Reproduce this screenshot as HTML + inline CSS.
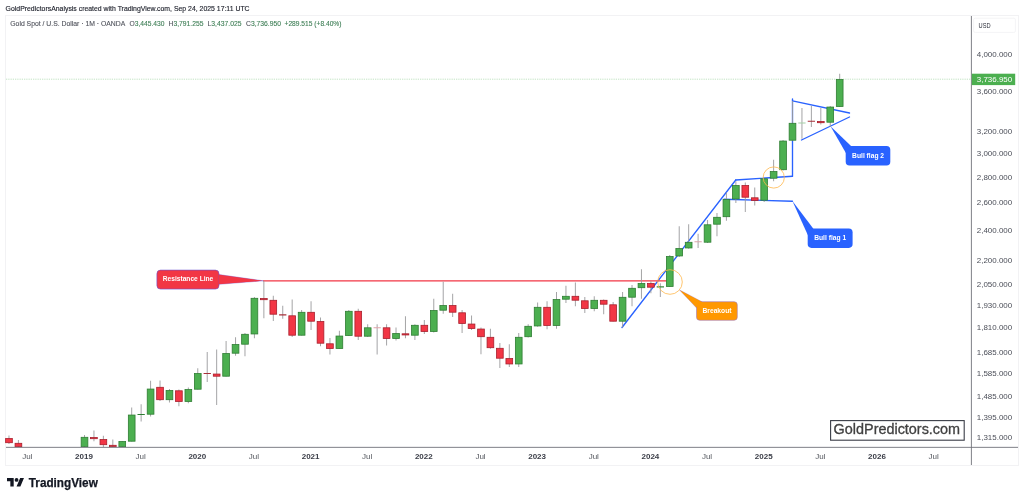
<!DOCTYPE html>
<html><head><meta charset="utf-8"><title>Gold chart</title>
<style>
html,body{margin:0;padding:0;background:#fff;}
body{width:1024px;height:500px;overflow:hidden;position:relative;font-family:"Liberation Sans",sans-serif;}
svg{position:absolute;left:0;top:0;will-change:transform;}
text{font-family:"Liberation Sans",sans-serif;}
.ax{font-size:8px;fill:#4b4e58;}
.tx{font-size:8px;fill:#55585f;}
.tb{font-size:8px;fill:#3a3d47;font-weight:bold;}
.hd{font-size:7.2px;fill:#1c1f2a;stroke:#1c1f2a;stroke-width:0.14;}
.lg{font-size:6.8px;fill:#50535c;stroke:#50535c;stroke-width:0.1;}
.lv{font-size:6.8px;fill:#3c7d54;stroke:#3c7d54;stroke-width:0.1;}
.cl{font-size:6.9px;fill:#fff;font-weight:bold;}
</style></head><body>
<svg width="1024" height="500" viewBox="0 0 1024 500">
<rect x="0" y="0" width="1024" height="500" fill="#ffffff"/>
<!-- frame -->
<rect x="5.5" y="15.5" width="1013" height="450" fill="none" stroke="#f2f2f4" stroke-width="1"/>
<!-- header -->
<text x="5.6" y="10.9" class="hd" textLength="244" lengthAdjust="spacingAndGlyphs">GoldPredictorsAnalysis created with TradingView.com, Sep 24, 2025 17:11 UTC</text>
<text x="10.3" y="26.4" class="lg" textLength="115" lengthAdjust="spacingAndGlyphs">Gold Spot / U.S. Dollar · 1M · OANDA</text>
<text x="129.5" y="26.4" class="lv" textLength="35" lengthAdjust="spacingAndGlyphs"><tspan fill="#50535c" stroke="#50535c">O</tspan>3,445.430</text>
<text x="168.5" y="26.4" class="lv" textLength="35" lengthAdjust="spacingAndGlyphs"><tspan fill="#50535c" stroke="#50535c">H</tspan>3,791.255</text>
<text x="207.5" y="26.4" class="lv" textLength="34" lengthAdjust="spacingAndGlyphs"><tspan fill="#50535c" stroke="#50535c">L</tspan>3,437.025</text>
<text x="246" y="26.4" class="lv" textLength="35" lengthAdjust="spacingAndGlyphs"><tspan fill="#50535c" stroke="#50535c">C</tspan>3,736.950</text>
<text x="284.5" y="26.4" class="lv" textLength="57" lengthAdjust="spacingAndGlyphs">+289.515 (+8.40%)</text>
<!-- price dotted line -->
<line x1="6" x2="971" y1="79.2" y2="79.2" stroke="#7fc683" stroke-width="0.6" stroke-dasharray="0.8 1"/>
<!-- trend lines (behind candles) -->
<g stroke="#2962ff" stroke-width="1.35" fill="none" stroke-linecap="round">
<line x1="622" y1="327.5" x2="735.75" y2="180"/>
<line x1="735.75" y1="180" x2="792.5" y2="176.25"/>
<line x1="724" y1="199.25" x2="792.5" y2="201.25"/>
<line x1="792.5" y1="176" x2="792.5" y2="98.9"/>
<line x1="792.5" y1="100.9" x2="849.5" y2="113"/>
<line x1="801.5" y1="140" x2="849.5" y2="117"/>
</g>
<line x1="263" y1="280.9" x2="666.5" y2="280.9" stroke="#f23645" stroke-width="1.1"/>
<!-- candles -->
<line x1="8.98" x2="8.98" y1="435.5" y2="444" stroke="#9a9a9c" stroke-width="0.9"/>
<rect x="5.63" y="438.55" width="6.70" height="4.15" fill="#f23645" stroke="#a81f2c" stroke-width="0.8"/>
<line x1="18.42" x2="18.42" y1="440" y2="447" stroke="#9a9a9c" stroke-width="0.9"/>
<rect x="15.07" y="443.30" width="6.70" height="3.40" fill="#f23645" stroke="#a81f2c" stroke-width="0.8"/>
<line x1="84.50" x2="84.50" y1="435" y2="447" stroke="#9a9a9c" stroke-width="0.9"/>
<rect x="81.15" y="437.30" width="6.70" height="9.40" fill="#4caf50" stroke="#2e7d32" stroke-width="0.8"/>
<line x1="93.94" x2="93.94" y1="430.5" y2="441.25" stroke="#9a9a9c" stroke-width="0.9"/>
<rect x="90.59" y="437.55" width="6.70" height="1.15" fill="#f23645" stroke="#a81f2c" stroke-width="0.8"/>
<line x1="103.38" x2="103.38" y1="435.75" y2="447" stroke="#9a9a9c" stroke-width="0.9"/>
<rect x="100.03" y="439.55" width="6.70" height="5.15" fill="#f23645" stroke="#a81f2c" stroke-width="0.8"/>
<line x1="112.82" x2="112.82" y1="439.5" y2="447" stroke="#9a9a9c" stroke-width="0.9"/>
<rect x="109.47" y="445.30" width="6.70" height="1.40" fill="#f23645" stroke="#a81f2c" stroke-width="0.8"/>
<line x1="122.26" x2="122.26" y1="441" y2="447" stroke="#9a9a9c" stroke-width="0.9"/>
<rect x="118.91" y="441.55" width="6.70" height="5.15" fill="#4caf50" stroke="#2e7d32" stroke-width="0.8"/>
<line x1="131.70" x2="131.70" y1="407.5" y2="441.5" stroke="#9a9a9c" stroke-width="0.9"/>
<rect x="128.35" y="415.05" width="6.70" height="26.15" fill="#4caf50" stroke="#2e7d32" stroke-width="0.8"/>
<line x1="141.14" x2="141.14" y1="404.25" y2="421.5" stroke="#9a9a9c" stroke-width="0.9"/>
<rect x="137.49" y="414.00" width="7.3" height="1.00" fill="#2e7d32"/>
<line x1="150.58" x2="150.58" y1="380.75" y2="416.5" stroke="#9a9a9c" stroke-width="0.9"/>
<rect x="147.23" y="389.05" width="6.70" height="25.15" fill="#4caf50" stroke="#2e7d32" stroke-width="0.8"/>
<line x1="160.02" x2="160.02" y1="380.5" y2="401" stroke="#9a9a9c" stroke-width="0.9"/>
<rect x="156.67" y="387.30" width="6.70" height="12.40" fill="#f23645" stroke="#a81f2c" stroke-width="0.8"/>
<line x1="169.46" x2="169.46" y1="389" y2="402.5" stroke="#9a9a9c" stroke-width="0.9"/>
<rect x="166.11" y="390.55" width="6.70" height="9.15" fill="#4caf50" stroke="#2e7d32" stroke-width="0.8"/>
<line x1="178.90" x2="178.90" y1="389.5" y2="406.25" stroke="#9a9a9c" stroke-width="0.9"/>
<rect x="175.55" y="390.80" width="6.70" height="10.65" fill="#f23645" stroke="#a81f2c" stroke-width="0.8"/>
<line x1="188.34" x2="188.34" y1="387.5" y2="403.25" stroke="#9a9a9c" stroke-width="0.9"/>
<rect x="184.99" y="389.55" width="6.70" height="11.90" fill="#4caf50" stroke="#2e7d32" stroke-width="0.8"/>
<line x1="197.78" x2="197.78" y1="368.25" y2="389.5" stroke="#9a9a9c" stroke-width="0.9"/>
<rect x="194.43" y="373.55" width="6.70" height="15.65" fill="#4caf50" stroke="#2e7d32" stroke-width="0.8"/>
<line x1="207.22" x2="207.22" y1="352" y2="382" stroke="#9a9a9c" stroke-width="0.9"/>
<rect x="203.57" y="373.00" width="7.3" height="1.00" fill="#a8303a"/>
<line x1="216.66" x2="216.66" y1="349.5" y2="405" stroke="#9a9a9c" stroke-width="0.9"/>
<rect x="213.31" y="374.05" width="6.70" height="2.15" fill="#f23645" stroke="#a81f2c" stroke-width="0.8"/>
<line x1="226.10" x2="226.10" y1="341" y2="376.5" stroke="#9a9a9c" stroke-width="0.9"/>
<rect x="222.75" y="353.55" width="6.70" height="22.65" fill="#4caf50" stroke="#2e7d32" stroke-width="0.8"/>
<line x1="235.54" x2="235.54" y1="337.25" y2="355.75" stroke="#9a9a9c" stroke-width="0.9"/>
<rect x="232.19" y="344.55" width="6.70" height="8.65" fill="#4caf50" stroke="#2e7d32" stroke-width="0.8"/>
<line x1="244.98" x2="244.98" y1="333" y2="356.25" stroke="#9a9a9c" stroke-width="0.9"/>
<rect x="241.63" y="334.30" width="6.70" height="9.90" fill="#4caf50" stroke="#2e7d32" stroke-width="0.8"/>
<line x1="254.42" x2="254.42" y1="297" y2="338.25" stroke="#9a9a9c" stroke-width="0.9"/>
<rect x="251.07" y="298.30" width="6.70" height="35.65" fill="#4caf50" stroke="#2e7d32" stroke-width="0.8"/>
<line x1="263.86" x2="263.86" y1="281" y2="318.25" stroke="#9a9a9c" stroke-width="0.9"/>
<rect x="260.51" y="298.55" width="6.70" height="1.15" fill="#f23645" stroke="#a81f2c" stroke-width="0.8"/>
<line x1="273.30" x2="273.30" y1="295.75" y2="321" stroke="#9a9a9c" stroke-width="0.9"/>
<rect x="269.95" y="300.30" width="6.70" height="13.90" fill="#f23645" stroke="#a81f2c" stroke-width="0.8"/>
<line x1="282.74" x2="282.74" y1="305.75" y2="318.75" stroke="#9a9a9c" stroke-width="0.9"/>
<rect x="279.09" y="314.25" width="7.3" height="1.25" fill="#a8303a"/>
<line x1="292.18" x2="292.18" y1="299.5" y2="337" stroke="#9a9a9c" stroke-width="0.9"/>
<rect x="288.83" y="315.80" width="6.70" height="19.40" fill="#f23645" stroke="#a81f2c" stroke-width="0.8"/>
<line x1="301.62" x2="301.62" y1="310" y2="335.5" stroke="#9a9a9c" stroke-width="0.9"/>
<rect x="298.27" y="312.30" width="6.70" height="22.90" fill="#4caf50" stroke="#2e7d32" stroke-width="0.8"/>
<line x1="311.06" x2="311.06" y1="301.25" y2="330" stroke="#9a9a9c" stroke-width="0.9"/>
<rect x="307.71" y="312.30" width="6.70" height="8.90" fill="#f23645" stroke="#a81f2c" stroke-width="0.8"/>
<line x1="320.50" x2="320.50" y1="317.5" y2="346.25" stroke="#9a9a9c" stroke-width="0.9"/>
<rect x="317.15" y="321.55" width="6.70" height="21.65" fill="#f23645" stroke="#a81f2c" stroke-width="0.8"/>
<line x1="329.94" x2="329.94" y1="338" y2="354.5" stroke="#9a9a9c" stroke-width="0.9"/>
<rect x="326.59" y="343.80" width="6.70" height="4.65" fill="#f23645" stroke="#a81f2c" stroke-width="0.8"/>
<line x1="339.38" x2="339.38" y1="330.75" y2="348.75" stroke="#9a9a9c" stroke-width="0.9"/>
<rect x="336.03" y="336.05" width="6.70" height="12.40" fill="#4caf50" stroke="#2e7d32" stroke-width="0.8"/>
<line x1="348.82" x2="348.82" y1="310" y2="336" stroke="#9a9a9c" stroke-width="0.9"/>
<rect x="345.47" y="311.30" width="6.70" height="24.15" fill="#4caf50" stroke="#2e7d32" stroke-width="0.8"/>
<line x1="358.26" x2="358.26" y1="308.75" y2="340" stroke="#9a9a9c" stroke-width="0.9"/>
<rect x="354.91" y="311.30" width="6.70" height="24.90" fill="#f23645" stroke="#a81f2c" stroke-width="0.8"/>
<line x1="367.70" x2="367.70" y1="324.25" y2="337" stroke="#9a9a9c" stroke-width="0.9"/>
<rect x="364.35" y="327.80" width="6.70" height="8.40" fill="#4caf50" stroke="#2e7d32" stroke-width="0.8"/>
<line x1="377.14" x2="377.14" y1="324.25" y2="354.5" stroke="#9a9a9c" stroke-width="0.9"/>
<rect x="373.49" y="327.25" width="7.3" height="1.00" fill="#dfa3a9"/>
<line x1="386.58" x2="386.58" y1="324.25" y2="345.5" stroke="#9a9a9c" stroke-width="0.9"/>
<rect x="383.23" y="327.80" width="6.70" height="10.65" fill="#f23645" stroke="#a81f2c" stroke-width="0.8"/>
<line x1="396.02" x2="396.02" y1="327.5" y2="340.5" stroke="#9a9a9c" stroke-width="0.9"/>
<rect x="392.67" y="333.55" width="6.70" height="4.90" fill="#4caf50" stroke="#2e7d32" stroke-width="0.8"/>
<line x1="405.46" x2="405.46" y1="316.25" y2="338.25" stroke="#9a9a9c" stroke-width="0.9"/>
<rect x="402.11" y="333.80" width="6.70" height="1.15" fill="#f23645" stroke="#a81f2c" stroke-width="0.8"/>
<line x1="414.90" x2="414.90" y1="324.25" y2="340" stroke="#9a9a9c" stroke-width="0.9"/>
<rect x="411.55" y="325.30" width="6.70" height="9.90" fill="#4caf50" stroke="#2e7d32" stroke-width="0.8"/>
<line x1="424.34" x2="424.34" y1="320" y2="334" stroke="#9a9a9c" stroke-width="0.9"/>
<rect x="420.99" y="325.30" width="6.70" height="6.15" fill="#f23645" stroke="#a81f2c" stroke-width="0.8"/>
<line x1="433.78" x2="433.78" y1="298.75" y2="332.5" stroke="#9a9a9c" stroke-width="0.9"/>
<rect x="430.43" y="310.55" width="6.70" height="20.90" fill="#4caf50" stroke="#2e7d32" stroke-width="0.8"/>
<line x1="443.22" x2="443.22" y1="281.75" y2="313.75" stroke="#9a9a9c" stroke-width="0.9"/>
<rect x="439.87" y="305.55" width="6.70" height="4.65" fill="#4caf50" stroke="#2e7d32" stroke-width="0.8"/>
<line x1="452.66" x2="452.66" y1="293.75" y2="317" stroke="#9a9a9c" stroke-width="0.9"/>
<rect x="449.31" y="305.55" width="6.70" height="6.65" fill="#f23645" stroke="#a81f2c" stroke-width="0.8"/>
<line x1="462.10" x2="462.10" y1="310" y2="333" stroke="#9a9a9c" stroke-width="0.9"/>
<rect x="458.75" y="312.80" width="6.70" height="10.65" fill="#f23645" stroke="#a81f2c" stroke-width="0.8"/>
<line x1="471.54" x2="471.54" y1="315.5" y2="330" stroke="#9a9a9c" stroke-width="0.9"/>
<rect x="468.19" y="324.05" width="6.70" height="4.40" fill="#f23645" stroke="#a81f2c" stroke-width="0.8"/>
<line x1="480.98" x2="480.98" y1="327.5" y2="354.25" stroke="#9a9a9c" stroke-width="0.9"/>
<rect x="477.63" y="329.05" width="6.70" height="7.65" fill="#f23645" stroke="#a81f2c" stroke-width="0.8"/>
<line x1="490.42" x2="490.42" y1="328.75" y2="348.75" stroke="#9a9a9c" stroke-width="0.9"/>
<rect x="487.07" y="337.30" width="6.70" height="10.40" fill="#f23645" stroke="#a81f2c" stroke-width="0.8"/>
<line x1="499.86" x2="499.86" y1="343" y2="368" stroke="#9a9a9c" stroke-width="0.9"/>
<rect x="496.51" y="348.30" width="6.70" height="9.90" fill="#f23645" stroke="#a81f2c" stroke-width="0.8"/>
<line x1="509.30" x2="509.30" y1="344.25" y2="367" stroke="#9a9a9c" stroke-width="0.9"/>
<rect x="505.95" y="358.55" width="6.70" height="5.40" fill="#f23645" stroke="#a81f2c" stroke-width="0.8"/>
<line x1="518.74" x2="518.74" y1="333" y2="367" stroke="#9a9a9c" stroke-width="0.9"/>
<rect x="515.39" y="337.30" width="6.70" height="26.65" fill="#4caf50" stroke="#2e7d32" stroke-width="0.8"/>
<line x1="528.18" x2="528.18" y1="324.25" y2="337.5" stroke="#9a9a9c" stroke-width="0.9"/>
<rect x="524.83" y="326.30" width="6.70" height="10.40" fill="#4caf50" stroke="#2e7d32" stroke-width="0.8"/>
<line x1="537.62" x2="537.62" y1="302.5" y2="326.75" stroke="#9a9a9c" stroke-width="0.9"/>
<rect x="534.27" y="307.30" width="6.70" height="18.65" fill="#4caf50" stroke="#2e7d32" stroke-width="0.8"/>
<line x1="547.06" x2="547.06" y1="301.25" y2="329.25" stroke="#9a9a9c" stroke-width="0.9"/>
<rect x="543.71" y="307.30" width="6.70" height="18.15" fill="#f23645" stroke="#a81f2c" stroke-width="0.8"/>
<line x1="556.50" x2="556.50" y1="292" y2="328.75" stroke="#9a9a9c" stroke-width="0.9"/>
<rect x="553.15" y="299.55" width="6.70" height="25.90" fill="#4caf50" stroke="#2e7d32" stroke-width="0.8"/>
<line x1="565.94" x2="565.94" y1="285.75" y2="303" stroke="#9a9a9c" stroke-width="0.9"/>
<rect x="562.59" y="296.30" width="6.70" height="2.90" fill="#4caf50" stroke="#2e7d32" stroke-width="0.8"/>
<line x1="575.38" x2="575.38" y1="282.5" y2="306.25" stroke="#9a9a9c" stroke-width="0.9"/>
<rect x="572.03" y="296.30" width="6.70" height="3.90" fill="#f23645" stroke="#a81f2c" stroke-width="0.8"/>
<line x1="584.82" x2="584.82" y1="297" y2="313" stroke="#9a9a9c" stroke-width="0.9"/>
<rect x="581.47" y="300.80" width="6.70" height="7.65" fill="#f23645" stroke="#a81f2c" stroke-width="0.8"/>
<line x1="594.26" x2="594.26" y1="296.25" y2="311.25" stroke="#9a9a9c" stroke-width="0.9"/>
<rect x="590.91" y="300.30" width="6.70" height="8.15" fill="#4caf50" stroke="#2e7d32" stroke-width="0.8"/>
<line x1="603.70" x2="603.70" y1="299.5" y2="314.25" stroke="#9a9a9c" stroke-width="0.9"/>
<rect x="600.35" y="300.30" width="6.70" height="3.90" fill="#f23645" stroke="#a81f2c" stroke-width="0.8"/>
<line x1="613.14" x2="613.14" y1="302" y2="321.5" stroke="#9a9a9c" stroke-width="0.9"/>
<rect x="609.79" y="304.80" width="6.70" height="16.40" fill="#f23645" stroke="#a81f2c" stroke-width="0.8"/>
<line x1="622.58" x2="622.58" y1="292" y2="327.5" stroke="#9a9a9c" stroke-width="0.9"/>
<rect x="619.23" y="297.30" width="6.70" height="23.90" fill="#4caf50" stroke="#2e7d32" stroke-width="0.8"/>
<line x1="632.02" x2="632.02" y1="285" y2="306.25" stroke="#9a9a9c" stroke-width="0.9"/>
<rect x="628.67" y="288.30" width="6.70" height="8.90" fill="#4caf50" stroke="#2e7d32" stroke-width="0.8"/>
<line x1="641.46" x2="641.46" y1="269.25" y2="298.75" stroke="#9a9a9c" stroke-width="0.9"/>
<rect x="638.11" y="283.55" width="6.70" height="4.15" fill="#4caf50" stroke="#2e7d32" stroke-width="0.8"/>
<line x1="650.90" x2="650.90" y1="281.25" y2="293.25" stroke="#9a9a9c" stroke-width="0.9"/>
<rect x="647.55" y="283.55" width="6.70" height="3.65" fill="#f23645" stroke="#a81f2c" stroke-width="0.8"/>
<line x1="660.34" x2="660.34" y1="283.25" y2="297" stroke="#9a9a9c" stroke-width="0.9"/>
<rect x="656.69" y="286.25" width="7.3" height="1.25" fill="#3a8a3e"/>
<line x1="669.78" x2="669.78" y1="255" y2="287" stroke="#9a9a9c" stroke-width="0.9"/>
<rect x="666.43" y="256.55" width="6.70" height="29.90" fill="#4caf50" stroke="#2e7d32" stroke-width="0.8"/>
<line x1="679.22" x2="679.22" y1="226.25" y2="257" stroke="#9a9a9c" stroke-width="0.9"/>
<rect x="675.87" y="248.55" width="6.70" height="7.40" fill="#4caf50" stroke="#2e7d32" stroke-width="0.8"/>
<line x1="688.66" x2="688.66" y1="224.25" y2="248.75" stroke="#9a9a9c" stroke-width="0.9"/>
<rect x="685.31" y="242.30" width="6.70" height="5.65" fill="#4caf50" stroke="#2e7d32" stroke-width="0.8"/>
<line x1="698.10" x2="698.10" y1="233.75" y2="248" stroke="#9a9a9c" stroke-width="0.9"/>
<rect x="694.45" y="241.25" width="7.3" height="1.00" fill="#dba5aa"/>
<line x1="707.54" x2="707.54" y1="220" y2="243" stroke="#9a9a9c" stroke-width="0.9"/>
<rect x="704.19" y="224.80" width="6.70" height="17.40" fill="#4caf50" stroke="#2e7d32" stroke-width="0.8"/>
<line x1="716.98" x2="716.98" y1="213" y2="236.25" stroke="#9a9a9c" stroke-width="0.9"/>
<rect x="713.63" y="217.30" width="6.70" height="6.90" fill="#4caf50" stroke="#2e7d32" stroke-width="0.8"/>
<line x1="726.42" x2="726.42" y1="192.5" y2="220.75" stroke="#9a9a9c" stroke-width="0.9"/>
<rect x="723.07" y="199.55" width="6.70" height="17.15" fill="#4caf50" stroke="#2e7d32" stroke-width="0.8"/>
<line x1="735.86" x2="735.86" y1="181.25" y2="203" stroke="#9a9a9c" stroke-width="0.9"/>
<rect x="732.51" y="185.55" width="6.70" height="13.40" fill="#4caf50" stroke="#2e7d32" stroke-width="0.8"/>
<line x1="745.30" x2="745.30" y1="182.5" y2="212" stroke="#9a9a9c" stroke-width="0.9"/>
<rect x="741.95" y="185.55" width="6.70" height="11.65" fill="#f23645" stroke="#a81f2c" stroke-width="0.8"/>
<line x1="754.74" x2="754.74" y1="187.5" y2="205.5" stroke="#9a9a9c" stroke-width="0.9"/>
<rect x="751.39" y="197.80" width="6.70" height="2.65" fill="#f23645" stroke="#a81f2c" stroke-width="0.8"/>
<line x1="764.18" x2="764.18" y1="178" y2="202" stroke="#9a9a9c" stroke-width="0.9"/>
<rect x="760.83" y="178.80" width="6.70" height="21.40" fill="#4caf50" stroke="#2e7d32" stroke-width="0.8"/>
<line x1="773.62" x2="773.62" y1="159.75" y2="181.25" stroke="#9a9a9c" stroke-width="0.9"/>
<rect x="770.27" y="171.55" width="6.70" height="6.65" fill="#4caf50" stroke="#2e7d32" stroke-width="0.8"/>
<line x1="783.06" x2="783.06" y1="140" y2="170.5" stroke="#9a9a9c" stroke-width="0.9"/>
<rect x="779.71" y="141.05" width="6.70" height="28.65" fill="#4caf50" stroke="#2e7d32" stroke-width="0.8"/>
<line x1="792.50" x2="792.50" y1="101" y2="141" stroke="#9a9a9c" stroke-width="0.9"/>
<rect x="789.15" y="123.30" width="6.70" height="16.90" fill="#4caf50" stroke="#2e7d32" stroke-width="0.8"/>
<line x1="801.94" x2="801.94" y1="108" y2="138.75" stroke="#9a9a9c" stroke-width="0.9"/>
<rect x="798.29" y="122.50" width="7.3" height="1.00" fill="#a3cfa6"/>
<line x1="811.38" x2="811.38" y1="105.75" y2="127" stroke="#9a9a9c" stroke-width="0.9"/>
<rect x="807.73" y="120.75" width="7.3" height="1.00" fill="#a8303a"/>
<line x1="820.82" x2="820.82" y1="108" y2="124.5" stroke="#9a9a9c" stroke-width="0.9"/>
<rect x="817.47" y="121.55" width="6.70" height="1.15" fill="#f23645" stroke="#a81f2c" stroke-width="0.8"/>
<line x1="830.26" x2="830.26" y1="106" y2="127" stroke="#9a9a9c" stroke-width="0.9"/>
<rect x="826.91" y="107.05" width="6.70" height="15.15" fill="#4caf50" stroke="#2e7d32" stroke-width="0.8"/>
<line x1="839.70" x2="839.70" y1="73.75" y2="107" stroke="#9a9a9c" stroke-width="0.9"/>
<rect x="836.35" y="79.55" width="6.70" height="26.90" fill="#4caf50" stroke="#2e7d32" stroke-width="0.8"/>
<!-- circles -->
<circle cx="670" cy="282" r="12.3" fill="none" stroke="#ffb74d" stroke-width="0.8"/>
<circle cx="773.75" cy="177.5" r="10.6" fill="none" stroke="#ffb74d" stroke-width="0.8"/>
<!-- Resistance callout -->
<path d="M263.25 280.8 L219 274.6 L219 284.3 Z" fill="#f23645" stroke="#6a4fd0" stroke-width="0.4"/>
<rect x="156.9" y="270.1" width="62.1" height="19" rx="3.6" fill="#f23645" stroke="#6a4fd0" stroke-width="0.6"/>
<path d="M262 280.8 L218.6 275 L218.6 284 Z" fill="#f23645"/>
<text x="188" y="281.1" text-anchor="middle" class="cl" textLength="50.6" lengthAdjust="spacingAndGlyphs">Resistance Line</text>
<!-- Breakout callout -->
<path d="M679.6 290 L702 301.8 L696.6 308 Z" fill="#ff9800" stroke="#a07ac0" stroke-width="0.4"/>
<rect x="696.5" y="301.7" width="40.8" height="18.6" rx="3.2" fill="#ff9800" stroke="#a07ac0" stroke-width="0.6"/>
<path d="M680.4 290.8 L702.6 302.4 L697.2 307.6 Z" fill="#ff9800"/>
<text x="717" y="312.9" text-anchor="middle" class="cl" textLength="29" lengthAdjust="spacingAndGlyphs">Breakout</text>
<!-- Bull flag 1 -->
<path d="M792.4 201 L813.4 228.8 L807.9 235.2 Z" fill="#2962ff"/>
<rect x="807.7" y="228.5" width="44.9" height="19.4" rx="3.8" fill="#2962ff"/>
<text x="830.2" y="240.2" text-anchor="middle" class="cl" textLength="32" lengthAdjust="spacingAndGlyphs">Bull flag 1</text>
<!-- Bull flag 2 -->
<path d="M830.5 126.2 L851.6 146.4 L845.9 153 Z" fill="#2962ff"/>
<rect x="845.7" y="146.1" width="44.6" height="19.4" rx="3.8" fill="#2962ff"/>
<text x="868.1" y="158.1" text-anchor="middle" class="cl" textLength="32" lengthAdjust="spacingAndGlyphs">Bull flag 2</text>
<!-- axes -->
<line x1="971.4" x2="971.4" y1="16" y2="465" stroke="#707279" stroke-width="0.9"/>
<line x1="6" x2="1018" y1="447.35" y2="447.35" stroke="#707279" stroke-width="0.9"/>
<!-- USD box -->
<rect x="973.6" y="18.2" width="41.8" height="14.2" rx="1.5" fill="#fff" stroke="#efeff2" stroke-width="0.7"/>
<text x="978.6" y="28" style="font-size:6.6px;fill:#2a2d38" textLength="12" lengthAdjust="spacingAndGlyphs">USD</text>
<text x="976.8" y="56.9" class="ax" textLength="35.4" lengthAdjust="spacingAndGlyphs">4,000.000</text>
<text x="976.8" y="94.0" class="ax" textLength="35.4" lengthAdjust="spacingAndGlyphs">3,600.000</text>
<text x="976.8" y="133.8" class="ax" textLength="35.4" lengthAdjust="spacingAndGlyphs">3,200.000</text>
<text x="976.8" y="156.1" class="ax" textLength="35.4" lengthAdjust="spacingAndGlyphs">3,000.000</text>
<text x="976.8" y="179.9" class="ax" textLength="35.4" lengthAdjust="spacingAndGlyphs">2,800.000</text>
<text x="976.8" y="205.4" class="ax" textLength="35.4" lengthAdjust="spacingAndGlyphs">2,600.000</text>
<text x="976.8" y="233.0" class="ax" textLength="35.4" lengthAdjust="spacingAndGlyphs">2,400.000</text>
<text x="976.8" y="263.0" class="ax" textLength="35.4" lengthAdjust="spacingAndGlyphs">2,200.000</text>
<text x="976.8" y="287.3" class="ax" textLength="35.4" lengthAdjust="spacingAndGlyphs">2,050.000</text>
<text x="976.8" y="308.1" class="ax" textLength="35.4" lengthAdjust="spacingAndGlyphs">1,930.000</text>
<text x="976.8" y="330.3" class="ax" textLength="35.4" lengthAdjust="spacingAndGlyphs">1,810.000</text>
<text x="976.8" y="354.9" class="ax" textLength="35.4" lengthAdjust="spacingAndGlyphs">1,685.000</text>
<text x="976.8" y="376.0" class="ax" textLength="35.4" lengthAdjust="spacingAndGlyphs">1,585.000</text>
<text x="976.8" y="398.5" class="ax" textLength="35.4" lengthAdjust="spacingAndGlyphs">1,485.000</text>
<text x="976.8" y="420.0" class="ax" textLength="35.4" lengthAdjust="spacingAndGlyphs">1,395.000</text>
<text x="976.8" y="440.4" class="ax" textLength="35.4" lengthAdjust="spacingAndGlyphs">1,315.000</text>
<rect x="971.8" y="73.7" width="43.4" height="11.4" fill="#4caf50"/>
<text x="976.8" y="82.1" style="font-size:8px;fill:#fff" textLength="35.4" lengthAdjust="spacingAndGlyphs">3,736.950</text>
<text x="27.4" y="458.5" text-anchor="middle" class="tx">Jul</text>
<text x="84.0" y="458.5" text-anchor="middle" class="tb">2019</text>
<text x="140.6" y="458.5" text-anchor="middle" class="tx">Jul</text>
<text x="197.3" y="458.5" text-anchor="middle" class="tb">2020</text>
<text x="253.9" y="458.5" text-anchor="middle" class="tx">Jul</text>
<text x="310.6" y="458.5" text-anchor="middle" class="tb">2021</text>
<text x="367.2" y="458.5" text-anchor="middle" class="tx">Jul</text>
<text x="423.8" y="458.5" text-anchor="middle" class="tb">2022</text>
<text x="480.5" y="458.5" text-anchor="middle" class="tx">Jul</text>
<text x="537.1" y="458.5" text-anchor="middle" class="tb">2023</text>
<text x="593.8" y="458.5" text-anchor="middle" class="tx">Jul</text>
<text x="650.4" y="458.5" text-anchor="middle" class="tb">2024</text>
<text x="707.0" y="458.5" text-anchor="middle" class="tx">Jul</text>
<text x="763.7" y="458.5" text-anchor="middle" class="tb">2025</text>
<text x="820.3" y="458.5" text-anchor="middle" class="tx">Jul</text>
<text x="877.0" y="458.5" text-anchor="middle" class="tb">2026</text>
<text x="933.6" y="458.5" text-anchor="middle" class="tx">Jul</text>
<!-- watermark box -->
<rect x="830.6" y="420.6" width="133.6" height="19.6" fill="#fff" stroke="#3a3d47" stroke-width="1.1"/>
<text x="833.6" y="434.1" style="font-size:14px;fill:#414141;stroke:#414141;stroke-width:0.3" textLength="126.5" lengthAdjust="spacingAndGlyphs">GoldPredictors.com</text>
<!-- TradingView logo -->
<g transform="translate(7,476.1) scale(0.478)" fill="#131722">
<path d="M14 22H7V11H0V4h14v18zM28 22h-8l7.5-18h8L28 22z"/><circle cx="20" cy="8" r="4"/>
</g>
<text x="28.8" y="487" style="font-size:12.2px;fill:#131722;font-weight:bold;stroke:#131722;stroke-width:0.25" textLength="69" lengthAdjust="spacingAndGlyphs">TradingView</text>
</svg>
</body></html>
